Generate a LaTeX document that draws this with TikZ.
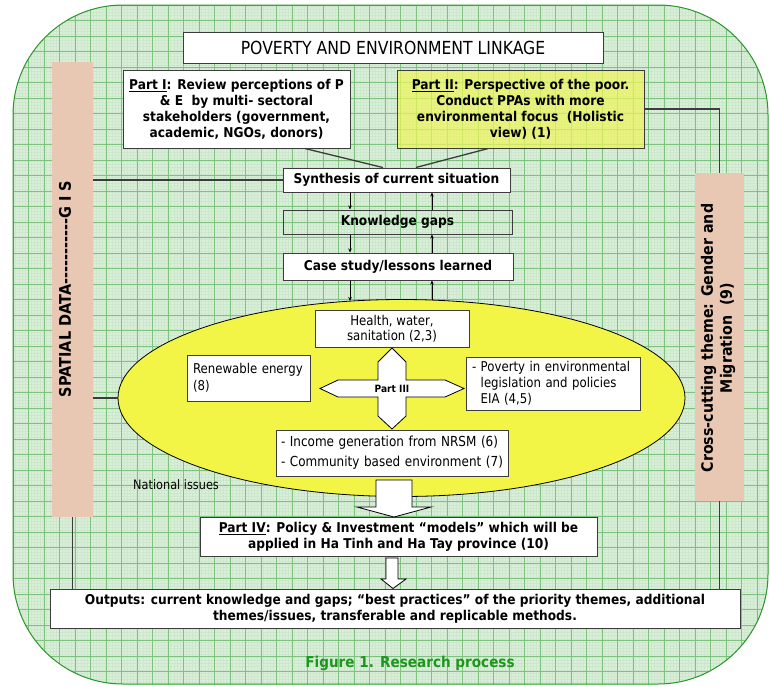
\documentclass[tikz,border=0pt]{standalone}
\usepackage{fontspec}
\setmainfont{DejaVu Sans}[FakeStretch=0.87, BoldFeatures={FakeStretch=0.905}]
\usetikzlibrary{shapes.geometric,calc,arrows.meta}
\definecolor{bggreen}{RGB}{218,239,218}
\definecolor{gridmajor}{RGB}{125,195,125}
\definecolor{gridminor}{RGB}{204,231,204}
\definecolor{borderg}{RGB}{40,150,40}
\definecolor{peach}{RGB}{232,200,178}
\definecolor{ellyellow}{RGB}{242,245,70}
\definecolor{ptwoyellow}{RGB}{240,245,90}
\definecolor{linegray}{RGB}{60,60,60}
\definecolor{capgreen}{RGB}{30,150,30}
\begin{document}
\begin{tikzpicture}[x=1pt,y=-1pt,
  box/.style={draw=linegray, line width=1pt, fill=white, inner sep=0pt, text=black},
  openbox/.style={draw=linegray, line width=1pt, inner sep=0pt, text=black},
  bfont/.style={font=\fontsize{13.5}{16}\selectfont\bfseries},
  rfont/.style={font=\fontsize{13.5}{16}\selectfont},
  conn/.style={draw=linegray, line width=1.3pt},
  arr/.style={draw=black, line width=0.7pt, -{Stealth[length=4pt,width=3.5pt]}},
  blockarrow/.style={draw=black, line width=0.8pt, fill=white},
  bar/.style={fill=peach, inner sep=0pt}]
\useasboundingbox (0,0) rectangle (770,686);
% background with grid
\begin{scope}
\clip[rounded corners=110pt] (13,5) rectangle (768,684);
\fill[bggreen] (0,0) rectangle (770,686);
\draw[gridminor, line width=0.2pt] \foreach \k in {0,...,247} { ({\k*3.1},0) -- ({\k*3.1},686) };
\draw[gridminor, line width=0.2pt] \foreach \k in {0,...,221} { (0,{\k*3.1}) -- (770,{\k*3.1}) };
\draw[gridmajor, line width=0.55pt] \foreach \k in {0,...,50} { ({13+\k*15.5},0) -- ({13+\k*15.5},686) };
\draw[gridmajor, line width=0.55pt] \foreach \k in {0,...,44} { (0,{5+\k*15.5}) -- (770,{5+\k*15.5}) };
\end{scope}
\draw[borderg, line width=1pt, rounded corners=110pt] (13,5) rectangle (768,684);

% side bars
\node[bar, minimum width=41pt, minimum height=455pt] (lbar) at (72.5,289.5) {};
\node[rotate=90, font=\fontsize{16}{19}\selectfont\bfseries] (ltext) at (65,289) {SPATIAL DATA-{}-{}-{}-{}-{}-{}-{}-{}-{}-{}-G I S};
\node[bar, minimum width=49pt, minimum height=328pt] (rbar) at (719.5,337) {};
\node[rotate=90, align=center, font=\fontsize{15.7}{19}\selectfont\bfseries] (rtext) at (718,338) {Cross-cutting theme: Gender and\\Migration\ \ (9)};

% title and parts
\node[box, minimum width=420pt, minimum height=31pt, font=\fontsize{18}{21}\selectfont] (title) at (393,47.5) {POVERTY AND ENVIRONMENT LINKAGE};
\node[box, minimum width=227pt, minimum height=78pt, bfont, align=center] (p1) at (236.5,109) {\underline{Part I}: Review perceptions of P\\\& E\ \ by multi- sectoral\\stakeholders (government,\\academic, NGOs, donors)};
\node[draw=linegray, line width=1pt, fill=ptwoyellow, fill opacity=0.7, text opacity=1, inner sep=0pt, minimum width=247pt, minimum height=78pt, bfont, align=center] (p2) at (520.5,109) {\underline{Part II}: Perspective of the poor.\\Conduct PPAs with more\\environmental focus\ \ (Holistic\\view) (1)};

\node[box, minimum width=227pt, minimum height=24pt, bfont] (synth) at (396.5,180) {Synthesis of current situation};
\node[openbox, minimum width=229pt, minimum height=24pt, bfont] (gaps) at (397.5,222) {Knowledge gaps};
\node[box, minimum width=230pt, minimum height=27pt, bfont] (case) at (398,266.5) {Case study/lessons learned};

% connectors
\draw[conn] (lbar.east |- synth.west) -- (synth.west);
\draw[conn] ($(p1.south west)!0.8!(p1.south east)$) -- ($(synth.north west)!0.44!(synth.north east)$);
\draw[conn] ($(p2.south west)!0.37!(p2.south east)$) -- ($(synth.north west)!0.585!(synth.north east)$);
\draw[conn] (p2.east) -| (rbar.north);

% ellipse
\node[ellipse, draw=black, line width=0.8pt, fill=ellyellow, minimum width=567pt, minimum height=197pt, inner sep=0pt] (ell) at (401.5,398) {};
\draw[conn] (lbar.east |- ell.west) -- (ell.west);

\coordinate (xl) at (350,0);
\coordinate (xr) at (432,0);
\coordinate (el) at (350,301);
\coordinate (er) at (432,300);
\draw[arr] (synth.south -| xl) -- (gaps.north -| xl);
\draw[arr] (gaps.south -| xl) -- (case.north -| xl);
\draw[arr] (case.south -| xl) -- (el);
\draw[arr] (er) -- (case.south -| xr);
\draw[arr] (case.north -| xr) -- (gaps.south -| xr);
\draw[arr] (gaps.north -| xr) -- (synth.south -| xr);

% inside ellipse
\node[box, minimum width=154pt, minimum height=37pt, align=center, font=\fontsize{13.5}{15}\selectfont] (health) at (392,328.5) {Health, water,\\sanitation (2,3)};
\node[box, minimum width=123pt, minimum height=46pt, align=left, text width=111pt, font=\fontsize{13.5}{17}\selectfont] (renew) at (248.5,378) {Renewable energy\\(8)};
\node[box, minimum width=174pt, minimum height=53pt, rfont, align=left, text width=162pt] (pov) at (553,383.5) {- Poverty in environmental\\\phantom{- }legislation and policies\\\phantom{- }EIA (4,5)};
\node[box, minimum width=232pt, minimum height=46pt, align=left, text width=222pt, font=\fontsize{13.8}{20}\selectfont] (income) at (392,453) {- Income generation from NRSM (6)\\- Community based environment (7)};

\draw[blockarrow] (392,348) -- (406,362) -- (406,380) -- (445,380) -- (464,388.5) -- (445,397) -- (406,397) -- (406,416) -- (392,429) -- (378,416) -- (378,397) -- (338,397) -- (320,388.5) -- (338,380) -- (378,380) -- (378,362) -- cycle;
\node[font=\fontsize{10}{11}\selectfont\bfseries] (p3) at (392,388.5) {Part III};

\node[font=\fontsize{13}{15}\selectfont, anchor=west, inner sep=0pt] (nat) at (133,485) {National issues};

% Part IV and outputs
\node[box, minimum width=397pt, minimum height=39pt, bfont, align=center] (p4) at (398.5,536.5) {\underline{Part IV}: Policy \& Investment “models” which will be\\applied in Ha Tinh and Ha Tay province (10)};
\node[box, minimum width=690pt, minimum height=39pt, bfont, align=center] (out) at (395,608.5) {Outputs: current knowledge and gaps; “best practices” of the priority themes, additional\\themes/issues, transferable and replicable methods.};

\draw[blockarrow] (376,480) -- (412,480) -- (412,507) -- (431,507) -- (394,517) -- (357,507) -- (376,507) -- cycle;
\draw[blockarrow] (386,558) -- (398,558) -- (398,579) -- (406,579) -- (393,588.5) -- (381,579) -- (386,579) -- cycle;

\draw[conn] (lbar.south) -- (lbar.south |- out.north);
\draw[conn] (rbar.south) -- (rbar.south |- out.north);

\node[font=\fontsize{15}{18}\selectfont\bfseries, text=capgreen] (cap) at (410,663) {Figure 1. Research process};
\end{tikzpicture}
\end{document}
